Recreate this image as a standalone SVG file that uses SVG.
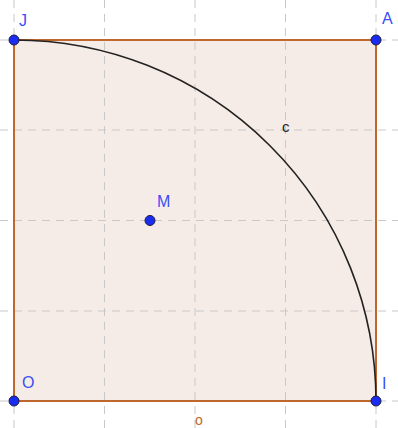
<svg xmlns="http://www.w3.org/2000/svg" width="398" height="428" viewBox="0 0 398 428">
<style>
.grid{stroke:#c8c8c8;stroke-width:1;stroke-dasharray:8,6;fill:none}
.sq{fill:#f6ece7;stroke:none}
.side{stroke:#c0672e;stroke-width:2;fill:none}
.pt{fill:#1a2cf0;stroke:#1a1a40;stroke-width:1}
.lbl{font-family:"Liberation Sans",Arial,sans-serif;font-size:16px;fill:#3a4ef5}
</style>
<rect width="398" height="428" fill="#ffffff"/>
<rect class="sq" x="14" y="40" width="362" height="361"/>
<g id="grid">
<line class="grid" x1="14" y1="0" x2="14" y2="428"/>
<line class="grid" x1="104.5" y1="0" x2="104.5" y2="428"/>
<line class="grid" x1="195" y1="0" x2="195" y2="428"/>
<line class="grid" x1="285.5" y1="0" x2="285.5" y2="428"/>
<line class="grid" x1="376" y1="0" x2="376" y2="428"/>
<line class="grid" x1="0" y1="40" x2="398" y2="40"/>
<line class="grid" x1="0" y1="130" x2="398" y2="130"/>
<line class="grid" x1="0" y1="220.5" x2="398" y2="220.5"/>
<line class="grid" x1="0" y1="311" x2="398" y2="311"/>
<line class="grid" x1="0" y1="401" x2="398" y2="401"/>
</g>
<g id="connectors">
<rect class="side" x="14" y="40" width="362" height="361"/>
<path d="M14,40 A362,361 0 0 1 376,401" fill="none" stroke="#222" stroke-width="1.6"/>
</g>
<text x="282" y="132" font-family="Liberation Sans,Arial,sans-serif" font-size="15" fill="#222">c</text>
<text x="195" y="425" font-family="Liberation Sans,Arial,sans-serif" font-size="14" fill="#c0672e">o</text>
<g id="J"><circle class="pt" cx="14" cy="40" r="5"/><text class="lbl" x="19" y="26">J</text></g>
<g id="A"><circle class="pt" cx="376" cy="40" r="5"/><text class="lbl" x="382" y="24">A</text></g>
<g id="O"><circle class="pt" cx="14" cy="401" r="5"/><text class="lbl" x="22" y="388">O</text></g>
<g id="I"><circle class="pt" cx="376" cy="401" r="5"/><text class="lbl" x="382" y="389">I</text></g>
<g id="M"><circle class="pt" cx="150" cy="220.5" r="5"/><text class="lbl" x="157" y="207">M</text></g>
</svg>
